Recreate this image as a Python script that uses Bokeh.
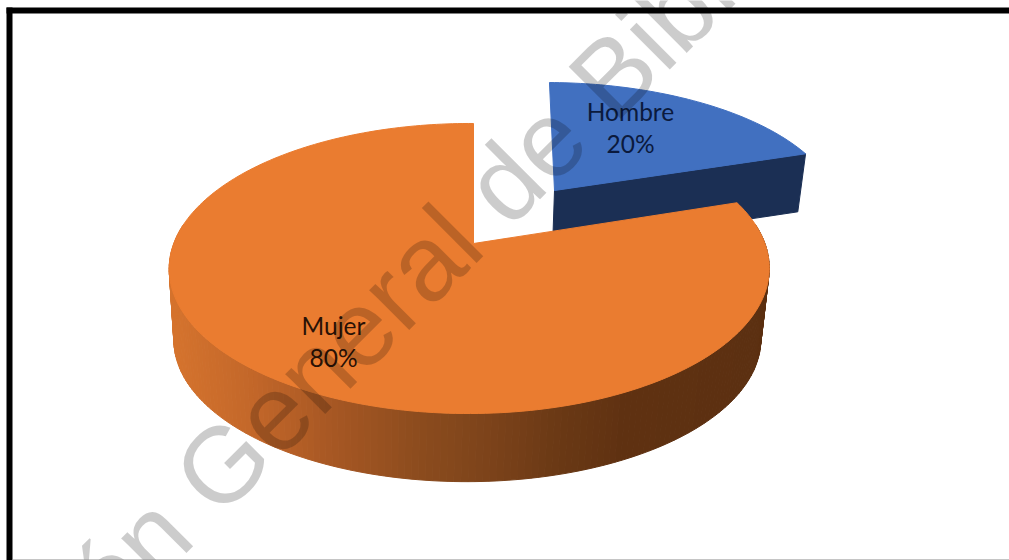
import numpy as np
from bokeh.core.properties import value
from bokeh.embed import file_html
from bokeh.models import Range1d
from bokeh.plotting import figure
from bokeh.resources import INLINE

# Survey shares
categories = ["Hombre", "Mujer"]
shares = [20, 80]
percent_labels = ["20%", "80%"]
watermark = "Dirección General de Bibliotecas"

TOP_COLORS = {"Hombre": "#4170c0", "Mujer": "#ea7c30"}
HOMBRE_WALL = "#1b2f54"
LABEL_COLORS = {"Hombre": "#0b1a3d", "Mujer": "#2a1206"}
FONT = "Lato"

# Wall shading of the large slice: page x against RGB
SHADE_X = [170, 250, 330, 420, 500, 560, 620, 770]
SHADE_R = [214, 196, 168, 140, 122, 106, 96, 92]
SHADE_G = [116, 104, 88, 76, 66, 57, 50, 48]
SHADE_B = [46, 42, 36, 30, 26, 21, 18, 17]

W, H = 1009, 560
p = figure(width=W, height=H, output_backend="svg", toolbar_location=None,
           x_range=Range1d(0, W), y_range=Range1d(H, 0),
           min_border=0, outline_line_color=None, background_fill_color="white",
           border_fill_color="white")
p.axis.visible = False
p.grid.visible = False


def project(theta, ax, ay, a, b, skew=0.0, k=0.1724, j=0.014):
    """Perspective view of a unit disc: theta runs clockwise from twelve o'clock."""
    xd, yd = np.sin(theta), np.cos(theta)
    w = 1 + k * yd + j * xd
    return ax + (a * xd + skew * yd) / w, ay - b * yd / w


edges = np.concatenate([[0], np.cumsum(shares)]) / sum(shares) * 2 * np.pi
h_start, h_end = edges[0], edges[1]
m_start, m_end = edges[1], edges[2]

# Pulled-out slice: cut face first, then its top
h_top = dict(ax=554, ay=190, a=283.5, b=126.6, skew=-5.9)
tip_x, tip_y = project(h_end, **h_top)
h_low = dict(ax=552, ay=248, a=277, b=126.6, skew=-5.9)
low_x, low_y = project(h_end, **h_low)
p.patch([h_top["ax"], tip_x, low_x, h_low["ax"]], [h_top["ay"], tip_y, low_y, h_low["ay"]],
        fill_color=HOMBRE_WALL, line_color=HOMBRE_WALL, line_width=1)
t = np.linspace(h_start, h_end, 60)
x, y = project(t, **h_top)
p.patch(np.r_[h_top["ax"], x], np.r_[h_top["ay"], y],
        fill_color=TOP_COLORS["Hombre"], line_color=TOP_COLORS["Hombre"], line_width=1)

# Large slice: shaded outer wall as thin strips, then the top surface
m_top = dict(ax=473, ay=243, a=295.5, b=140.7)
m_low = dict(ax=471, ay=315, a=289, b=137.5)
front = np.radians(np.linspace(82, 278, 170))
for t0, t1 in zip(front[:-1], front[1:]):
    xa, ya = project(np.array([t0, t1]), **m_top)
    xb, yb = project(np.array([t1, t0]), **m_low)
    mid = (xa.mean() + xb.mean()) / 2
    rgb = [int(np.interp(mid, SHADE_X, c)) for c in (SHADE_R, SHADE_G, SHADE_B)]
    col = "#%02x%02x%02x" % tuple(rgb)
    p.patch(np.r_[xa, xb], np.r_[ya, yb], fill_color=col, line_color=col, line_width=1)

t = np.linspace(m_start, m_end, 240)
x, y = project(t, **m_top)
p.patch(np.r_[m_top["ax"], x], np.r_[m_top["ay"], y],
        fill_color=TOP_COLORS["Mujer"], line_color=TOP_COLORS["Mujer"], line_width=1)

# Two-line data labels
label_pos = {"Hombre": (630, 111, 143), "Mujer": (333, 325, 357)}
for cat, pct in zip(categories, percent_labels):
    lx, y1, y2 = label_pos[cat]
    p.text([lx, lx], [y1, y2], text=[cat, pct], text_align="center", text_baseline="middle",
           text_font=value(FONT), text_font_size="24.5px", text_color=LABEL_COLORS[cat])

# Diagonal stamp across the page
p.text([-144], [830], text=[watermark], angle=[45], angle_units="deg",
       text_align="left", text_baseline="alphabetic", text_font=value("Liberation Sans"),
       text_font_size="107px", text_color="black", text_alpha=0.2)

# Frame: heavy top and left rules, thin grey base line
p.quad(left=[6], right=[W], top=[7], bottom=[13], fill_color="black", line_color=None)
p.quad(left=[6], right=[12], top=[7], bottom=[H], fill_color="black", line_color=None)
p.quad(left=[12], right=[W], top=[559], bottom=[H], fill_color="#8c8c8c", line_color=None)

open("out.html", "w").write(file_html(p, INLINE))
